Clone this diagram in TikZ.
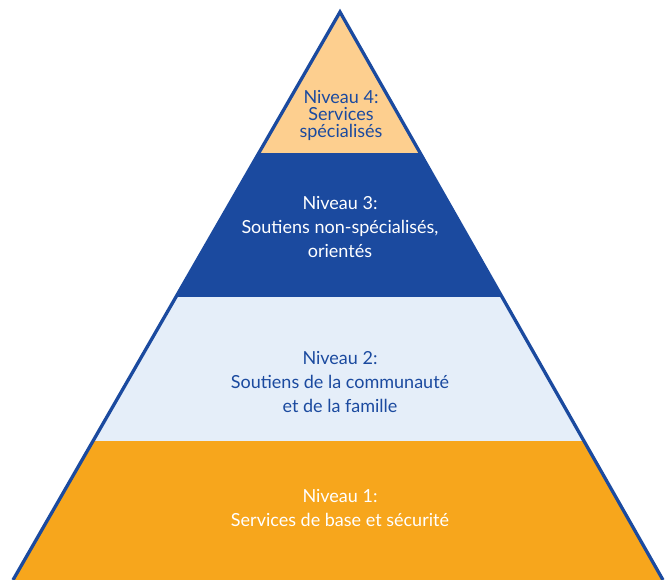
\documentclass[tikz,border=0pt]{standalone}
\usepackage{fontspec}
\setmainfont{Lato}
\definecolor{dblue}{HTML}{1B4A9F}
\definecolor{lorange}{HTML}{FDCF8F}
\definecolor{lblue}{HTML}{E5EEF9}
\definecolor{morange}{HTML}{F7A61C}
\begin{document}
\begin{tikzpicture}[x=1pt,y=-1pt,
  lbl/.style={align=center, inner sep=0pt, font=\fontsize{18}{24}\selectfont},
  lbltight/.style={align=center, inner sep=0pt, font=\fontsize{18}{17}\selectfont}]
\useasboundingbox (0,0) rectangle (665,580);
\clip (0,0) rectangle (665,580);
\coordinate (apex) at (340,12);
\coordinate (bl) at (13,580);
\coordinate (br) at (663,580);
\begin{scope}
\clip (apex) -- (bl) -- (br) -- cycle;
\fill[lorange] (0,0) rectangle (665,153);
\fill[dblue] (0,153) rectangle (665,297);
\fill[lblue] (0,297) rectangle (665,441);
\fill[morange] (0,441) rectangle (665,590);
\end{scope}
\draw[dblue, line width=3.3pt, line join=miter] (bl) -- (apex) -- (br);
\node[lbltight, text=dblue] (n4) at (341,115) {Niveau 4:\\Services\\spécialisés};
\node[lbl, text=white] (n3) at (340,227) {Niveau 3:\\Soutiens non-spécialisés,\\orientés};
\node[lbl, text=dblue] (n2) at (340,382) {Niveau 2:\\Soutiens de la communauté\\et de la famille};
\node[lbl, text=white] (n1) at (340,508) {Niveau 1:\\Services de base et sécurité};
\end{tikzpicture}
\end{document}
